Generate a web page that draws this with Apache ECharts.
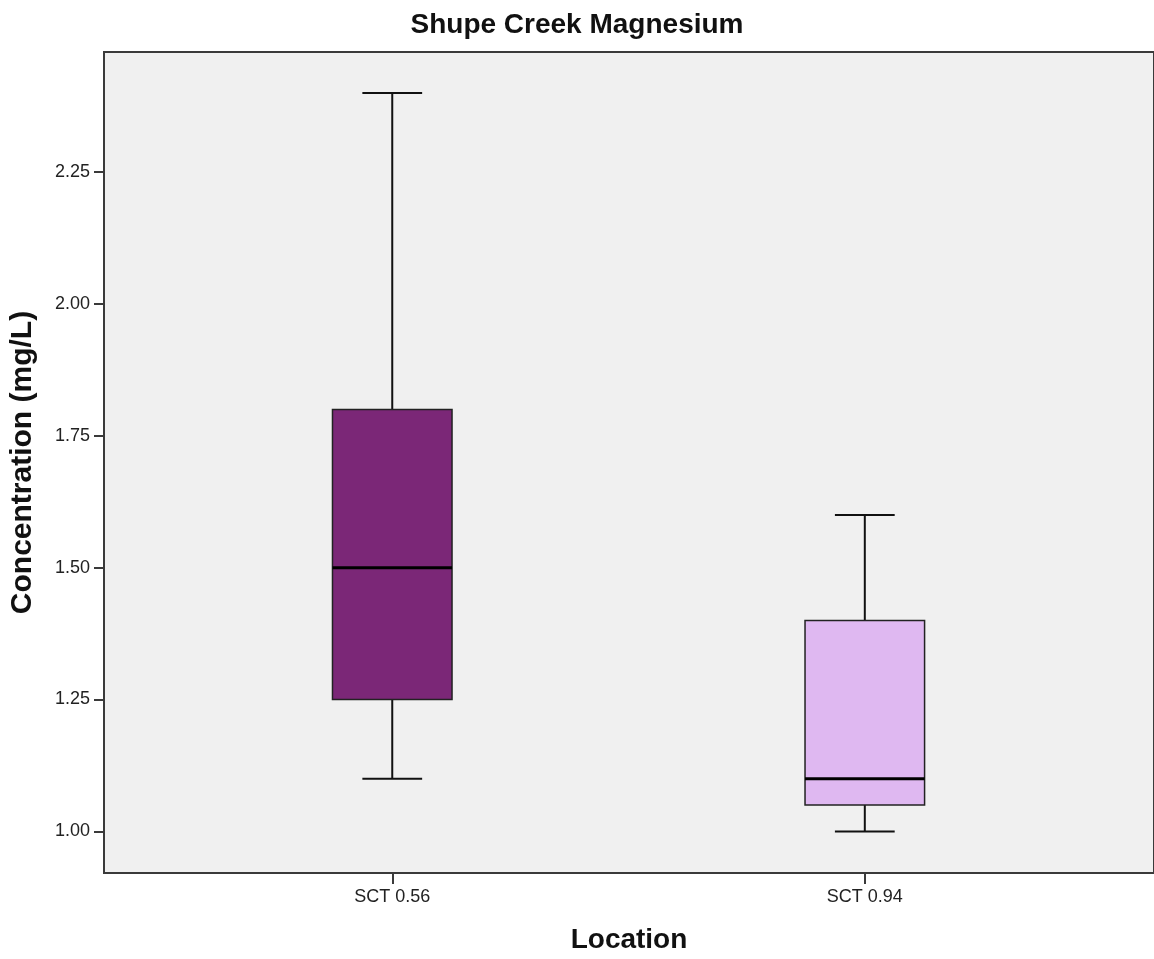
<!DOCTYPE html>
<html>
<head>
<meta charset="utf-8">
<script src="https://cdn.jsdelivr.net/npm/echarts@6/dist/echarts.min.js"></script>
<style>html,body{margin:0;padding:0;background:#fff}#c{width:1154px;height:959px}</style>
</head>
<body>
<div id="c"></div>
<script>
const categories = ['SCT 0.56', 'SCT 0.94'];
const whiskerLow = [1.10, 1.00];
const q1 = [1.25, 1.05];
const median = [1.50, 1.10];
const q3 = [1.80, 1.40];
const whiskerHigh = [2.40, 1.60];
const boxColors = ['#7B2777', '#DFB8F1'];
const yTicks = [1.00, 1.25, 1.50, 1.75, 2.00, 2.25];

const data = categories.map((c, i) => [i, whiskerLow[i], q1[i], median[i], q3[i], whiskerHigh[i]]);

const FONT = 'Liberation Sans, Arial, sans-serif';
const chart = echarts.init(document.getElementById('c'));
chart.setOption({
  animation: false,
  title: {
    text: 'Shupe Creek Magnesium', left: 'center', top: 6,
    textStyle: {fontFamily: FONT, fontSize: 28, fontWeight: 'bold', color: '#111'}
  },
  grid: {left: 104, right: -3, top: 52, bottom: 84, show: true, backgroundColor: '#F0F0F0', borderColor: '#3a3a3a', borderWidth: 2},
  xAxis: {
    type: 'value', min: -0.61, max: 1.612,
    name: 'Location', nameLocation: 'middle', nameGap: 53,
    nameTextStyle: {fontFamily: FONT, fontSize: 28, fontWeight: 'bold', color: '#111'},
    splitLine: {show: false},
    axisLine: {show: true, onZero: false, lineStyle: {color: '#3a3a3a', width: 2}},
    axisTick: {show: true, length: 11, lineStyle: {color: '#3a3a3a', width: 2}, customValues: [0, 1]},
    axisLabel: {customValues: [0, 1], formatter: v => categories[Math.round(v)], margin: 15, fontFamily: FONT, fontSize: 18, color: '#222'}
  },
  yAxis: {
    type: 'value', min: 0.9211, max: 2.4775,
    name: 'Concentration (mg/L)', nameLocation: 'middle', nameGap: 66, nameRotate: 90,
    nameTextStyle: {fontFamily: FONT, fontSize: 30, fontWeight: 'bold', color: '#111'},
    splitLine: {show: false},
    axisLine: {show: true, onZero: false, lineStyle: {color: '#3a3a3a', width: 2}},
    axisTick: {show: true, length: 10, lineStyle: {color: '#3a3a3a', width: 2}, customValues: yTicks},
    axisLabel: {customValues: yTicks, formatter: v => v.toFixed(2), margin: 14, fontFamily: FONT, fontSize: 18, color: '#222'}
  },
  series: [{
    type: 'custom',
    data: data,
    encode: {x: 0, y: [1, 2, 3, 4, 5]},
    renderItem: function (params, api) {
      const i = api.value(0);
      const pLow = api.coord([i, api.value(1)]);
      const pQ1 = api.coord([i, api.value(2)]);
      const pMed = api.coord([i, api.value(3)]);
      const pQ3 = api.coord([i, api.value(4)]);
      const pHigh = api.coord([i, api.value(5)]);
      const unit = api.size([1, 0])[0];
      const bw = unit * 0.253;
      const cw = bw / 2;
      const x = pMed[0];
      const wl = {stroke: '#111', lineWidth: 2};
      return {
        type: 'group',
        children: [
          {type: 'line', shape: {x1: x, y1: pQ3[1], x2: x, y2: pHigh[1]}, style: wl},
          {type: 'line', shape: {x1: x, y1: pQ1[1], x2: x, y2: pLow[1]}, style: wl},
          {type: 'line', shape: {x1: x - cw / 2, y1: pHigh[1], x2: x + cw / 2, y2: pHigh[1]}, style: wl},
          {type: 'line', shape: {x1: x - cw / 2, y1: pLow[1], x2: x + cw / 2, y2: pLow[1]}, style: wl},
          {type: 'rect', shape: {x: x - bw / 2, y: pQ3[1], width: bw, height: pQ1[1] - pQ3[1]},
            style: {fill: boxColors[i], stroke: '#222', lineWidth: 1.5}},
          {type: 'line', shape: {x1: x - bw / 2, y1: pMed[1], x2: x + bw / 2, y2: pMed[1]}, style: {stroke: '#000', lineWidth: 3}}
        ]
      };
    }
  }]
});
</script>
</body>
</html>
